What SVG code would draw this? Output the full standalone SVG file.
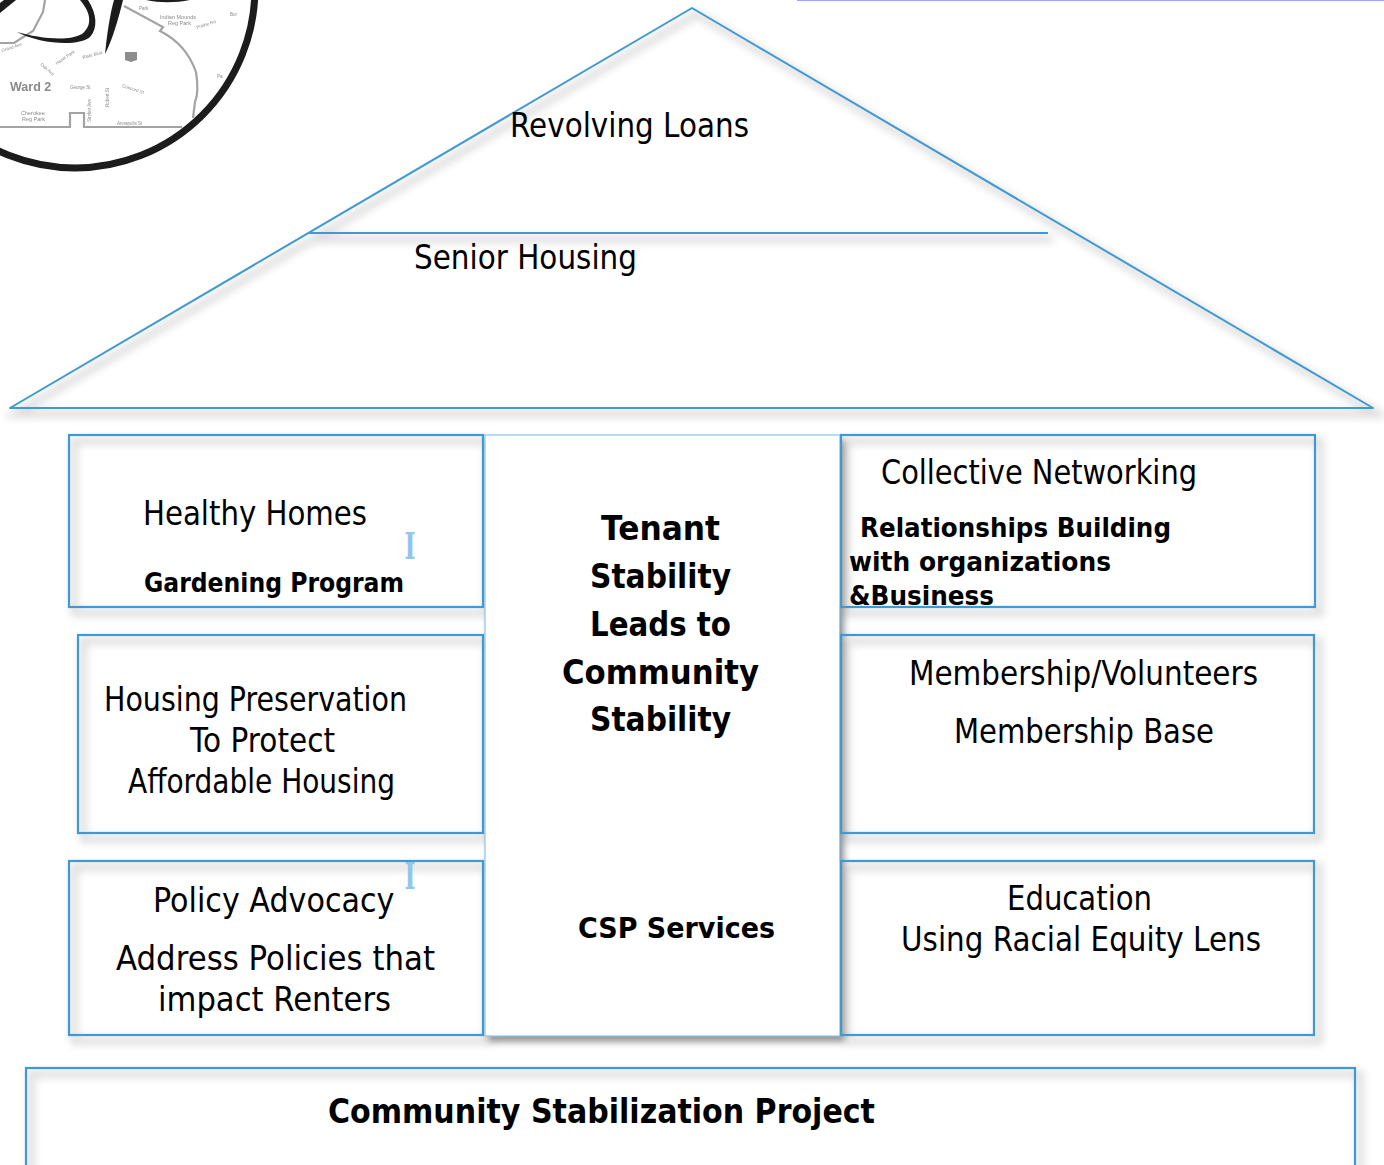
<svg xmlns="http://www.w3.org/2000/svg" width="1384" height="1165" viewBox="0 0 1384 1165">
<style>
.b{fill:none;stroke:#3f9ad4;stroke-width:2.2}
.t{font-family:"DejaVu Sans","Liberation Sans",sans-serif;font-size:33px;fill:#000}
.h{font-family:"DejaVu Sans","Liberation Sans",sans-serif;font-size:33px;font-weight:700;fill:#000}
.m{font-family:"Liberation Sans",sans-serif;fill:#8a8a8a;font-size:4.5px}
.l{font-family:"Liberation Sans",sans-serif;fill:#8a8a8a;font-size:5.5px}
.r{fill:none;stroke:#a3a3a3;stroke-width:2.2}
.i{font-family:"DejaVu Serif","Liberation Serif",serif;font-size:37px;font-weight:700;fill:#94c5ea}
</style>
<defs>
<filter id="s" x="-5%" y="-5%" width="110%" height="110%"><feGaussianBlur stdDeviation="4.500"/></filter>
<filter id="c" x="-10%" y="-10%" width="120%" height="120%"><feGaussianBlur stdDeviation="3.500"/></filter>
<filter id="soft" x="-5%" y="-5%" width="110%" height="110%"><feGaussianBlur stdDeviation="0.350"/></filter>
</defs>
<rect width="1384" height="1165" fill="#fff"/>

<g id="map" filter="url(#soft)">
<path class="r" d="M45 0 43 12 33 31 14 43H0"/>
<path class="r" d="M124 6 163 27 160 31C178 40 190 55 196 72 198 85 198 95 195 102L193 118"/>
<path class="r" d="M0 127H70V113H84V127H182"/>
<circle cx="75" cy="-12" r="180" fill="none" stroke="#1c1a1a" stroke-width="7"/>
<path fill="#1c1a1a" d="M17 32C38 38 68 42 82 34 92 26 92 14 80 0H88C97 14 98 28 90 37 78 47 40 44 17 32Z"/>
<path fill="#1c1a1a" d="M105 54C107 34 110 14 114 0H123C118 20 113 38 105 54Z"/>
<path fill="#1c1a1a" d="M0 13 16 0H4L0 3Z"/>
<path fill="#1c1a1a" d="M146 0H190C175 3 160 3 146 0Z"/>
<path fill="#8d8d8d" d="M125 52H137V60L131 62 125 60Z"/>
<text class="m" x="10" y="91" style="font-size:12.500px;font-weight:700">Ward 2</text>
<text class="l" x="21" y="115">Cherokee</text>
<text class="l" x="22" y="121">Reg Park</text>
<text class="m" x="70" y="89">George St</text>
<text class="m" x="117" y="125">Annapolis St</text>
<text class="l" x="160" y="19">Indian Mounds</text>
<text class="l" x="168" y="25">Reg Park</text>
<text class="m" x="230" y="16">Bur</text>
<text class="m" x="139" y="10">Park</text>
<text class="m" x="217" y="78">Pa</text>
<text class="m" transform="translate(122 87) rotate(18)">Concord St</text>
<text class="m" transform="translate(91 122) rotate(-90)">Stryker Ave</text>
<text class="m" transform="translate(109 107) rotate(-90)">Robert St</text>
<text class="m" transform="translate(83 59) rotate(-15)">Plate Blvd</text>
<text class="m" transform="translate(197 29) rotate(-18)">Prairie Rd</text>
<text class="m" transform="translate(57 65) rotate(-35)">Hazel Park</text>
<text class="m" transform="translate(40 65) rotate(40)">Oak Ave</text>
<text class="m" transform="translate(2 52) rotate(-18)">Grand Ave</text>
</g>

<g id="top-line"><path d="M797 0H1384" stroke="#6f8cff" stroke-width="1.600" fill="none"/></g>

<g id="shadows" fill="none" stroke="#000" stroke-width="7" opacity=".14" filter="url(#s)" transform="translate(5 6)">
<path d="M10 408 692 8 1373 408Z"/>
<path d="M308 233H1048"/>
<rect x="69" y="435" width="414" height="172"/>
<rect x="78" y="635" width="405" height="198"/>
<rect x="69" y="861" width="414" height="174"/>
<rect x="841" y="435" width="474" height="172"/>
<rect x="841" y="635" width="473" height="198"/>
<rect x="841" y="861" width="473" height="174"/>
<rect x="26" y="1068" width="1329" height="110"/>
</g>

<g id="center-shadow">
<rect x="489" y="440" width="355" height="602" fill="#000" opacity=".42" filter="url(#c)"/>
</g>
<g id="center">
<rect x="485" y="435" width="355" height="601" fill="#fff" stroke="#8cc4ea" stroke-width="1.200"/>
<path d="M840.500 607V861" stroke="#8aa6bd" stroke-width="1.600" fill="none"/>
</g>

<g id="roof">
<path d="M10 408 692 8 1373 408Z" fill="none" stroke="#3f9ad4" stroke-width="2" stroke-linejoin="round"/>
<path d="M308 233H1048" stroke="#3f9ad4" stroke-width="2" fill="none"/>
<text class="t" x="510" y="137" textLength="239" lengthAdjust="spacingAndGlyphs">Revolving Loans</text>
<text class="t" x="414" y="269" textLength="223" lengthAdjust="spacingAndGlyphs">Senior Housing</text>
</g>

<g id="healthy-homes">
<rect class="b" x="69" y="435" width="414" height="172"/>
<text class="t" x="143" y="525" textLength="224" lengthAdjust="spacingAndGlyphs">Healthy Homes</text>
<text class="h" x="144" y="592" style="font-size:26px" textLength="260" lengthAdjust="spacingAndGlyphs">Gardening Program</text>
</g>
<g id="housing-preservation">
<rect class="b" x="78" y="635" width="405" height="198"/>
<text class="t" x="104" y="711" textLength="303" lengthAdjust="spacingAndGlyphs">Housing Preservation</text>
<text class="t" x="190" y="752" textLength="145" lengthAdjust="spacingAndGlyphs">To Protect</text>
<text class="t" x="128" y="793" textLength="267" lengthAdjust="spacingAndGlyphs">Affordable Housing</text>
</g>
<g id="policy-advocacy">
<rect class="b" x="69" y="861" width="414" height="174"/>
<text class="t" transform="translate(153 912) scale(.914 1)">Policy Advocacy</text>
<text class="t" x="116" y="970" textLength="319" lengthAdjust="spacingAndGlyphs">Address Policies that</text>
<text class="t" x="158" y="1011" textLength="233" lengthAdjust="spacingAndGlyphs">impact Renters</text>
</g>
<g id="collective-networking">
<rect class="b" x="841" y="435" width="474" height="172"/>
<text class="t" x="881" y="484" textLength="316" lengthAdjust="spacingAndGlyphs">Collective Networking</text>
<text class="h" x="860" y="537" style="font-size:27px" textLength="311" lengthAdjust="spacingAndGlyphs">Relationships Building</text>
<text class="h" x="849" y="571" style="font-size:27px" textLength="262" lengthAdjust="spacingAndGlyphs">with organizations</text>
<text class="h" x="849" y="605" style="font-size:27px" textLength="145" lengthAdjust="spacingAndGlyphs">&amp;Business</text>
</g>
<g id="membership">
<rect class="b" x="841" y="635" width="473" height="198"/>
<text class="t" x="909" y="685" textLength="349" lengthAdjust="spacingAndGlyphs">Membership/Volunteers</text>
<text class="t" x="954" y="743" textLength="260" lengthAdjust="spacingAndGlyphs">Membership Base</text>
</g>
<g id="education">
<rect class="b" x="841" y="861" width="473" height="174"/>
<text class="t" x="1007" y="910" textLength="145" lengthAdjust="spacingAndGlyphs">Education</text>
<text class="t" x="901" y="951" textLength="360" lengthAdjust="spacingAndGlyphs">Using Racial Equity Lens</text>
</g>

<g id="center-text">
<text class="h" x="660.500" y="540" text-anchor="middle" textLength="119" lengthAdjust="spacingAndGlyphs">Tenant</text>
<text class="h" x="660.500" y="588" text-anchor="middle" textLength="141" lengthAdjust="spacingAndGlyphs">Stability</text>
<text class="h" x="660.500" y="636" text-anchor="middle" textLength="141" lengthAdjust="spacingAndGlyphs">Leads to</text>
<text class="h" x="660.500" y="684" text-anchor="middle" textLength="197" lengthAdjust="spacingAndGlyphs">Community</text>
<text class="h" x="660.500" y="731" text-anchor="middle" textLength="141" lengthAdjust="spacingAndGlyphs">Stability</text>
<text class="h" x="578" y="938" textLength="197" lengthAdjust="spacingAndGlyphs" style="font-size:29px">CSP Services</text>
</g>

<g id="cursors">
<text class="i" x="404.500" y="559" textLength="11" lengthAdjust="spacingAndGlyphs">I</text>
<text class="i" x="404.500" y="889" textLength="11" lengthAdjust="spacingAndGlyphs">I</text>
</g>

<g id="foundation">
<rect class="b" x="26" y="1068" width="1329" height="110"/>
<text class="h" x="328" y="1123" textLength="547" lengthAdjust="spacingAndGlyphs">Community Stabilization Project</text>
</g>

<g id="connectors"/>
</svg>
